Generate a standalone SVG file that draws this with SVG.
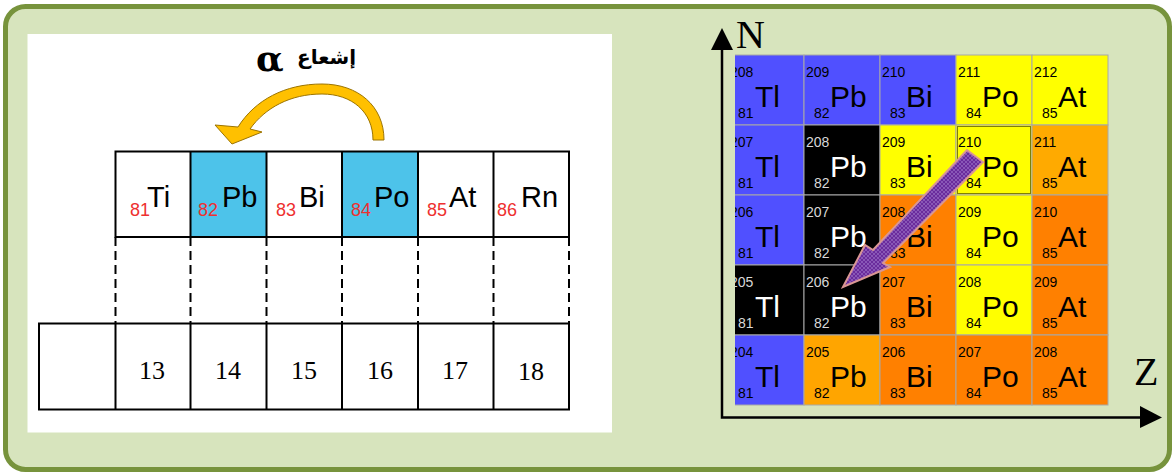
<svg xmlns="http://www.w3.org/2000/svg" width="1173" height="472" viewBox="0 0 1173 472">
<style>
.tl{stroke:#000;stroke-width:2;fill:none}
.dash{stroke:#000;stroke-width:2;stroke-dasharray:9 5;fill:none}
.rn{font-family:"Liberation Sans",Arial,sans-serif;font-size:18px;fill:#ee3030}
.sym{font-family:"Liberation Sans",Arial,sans-serif;font-size:29px;fill:#000}
.grp{font-family:"Liberation Serif","Times New Roman",serif;font-size:26px;fill:#000;text-anchor:middle}
.cell{stroke:#a8a8a8;stroke-width:1}
.m{font-family:"Liberation Sans",Arial,sans-serif;font-size:14px;fill:#000}
.s{font-family:"Liberation Sans",Arial,sans-serif;font-size:30px;fill:#000}
.dk .m{fill:#d8d8d8}
.dk .s{fill:#fff}
.ax{stroke:#000;stroke-width:2.5;fill:none}
.axl{font-family:"Liberation Serif","Times New Roman",serif;font-size:40px;fill:#000}
</style>
<defs>
<clipPath id="gclip"><rect x="735" y="54" width="374" height="352"/></clipPath>
<pattern id="hatch" width="4" height="4" patternUnits="userSpaceOnUse">
<rect width="4" height="4" fill="#6a2c9c"/>
<path d="M0,0 L4,4 M4,0 L0,4" stroke="#9d74c9" stroke-width="0.6"/>
</pattern>
</defs>

<rect id="frame" x="5.5" y="6.5" width="1164" height="463" rx="20" fill="#d7e4bd" stroke="#77933c" stroke-width="5"/>
<rect id="panel" x="27.5" y="34" width="584.5" height="398.5" fill="#fff"/>

<!-- left table -->
<g id="top-row">
<rect x="190.5" y="151.5" width="76" height="85.5" fill="#4dc3ea"/>
<rect x="342" y="151.5" width="76" height="85.5" fill="#4dc3ea"/>
<rect class="tl" x="115.5" y="151.5" width="453.5" height="85.5"/>
<path class="tl" d="M190.5,151.5V237 M266.5,151.5V237 M342,151.5V237 M418,151.5V237 M493.5,151.5V237"/>
</g>
<g id="cell-Ti"><text class="rn" x="130" y="216">81</text><text class="sym" x="147" y="207">Ti</text></g>
<g id="cell-Pb"><text class="rn" x="198" y="216">82</text><text class="sym" x="222" y="207">Pb</text></g>
<g id="cell-Bi"><text class="rn" x="276" y="216">83</text><text class="sym" x="299" y="207">Bi</text></g>
<g id="cell-Po"><text class="rn" x="351" y="216">84</text><text class="sym" x="374" y="207">Po</text></g>
<g id="cell-At"><text class="rn" x="427" y="216">85</text><text class="sym" x="449" y="207">At</text></g>
<g id="cell-Rn"><text class="rn" x="497" y="216">86</text><text class="sym" x="521" y="207">Rn</text></g>
<g id="dashed">
<path class="dash" d="M115.5,237V323 M190.5,237V323 M266.5,237V323 M342,237V323 M418,237V323 M493.5,237V323 M569,237V323"/>
</g>
<g id="bottom-row">
<rect class="tl" x="39" y="323.5" width="530" height="86"/>
<path class="tl" d="M115.5,323.5V409.5 M190.5,323.5V409.5 M266.5,323.5V409.5 M342,323.5V409.5 M418,323.5V409.5 M493.5,323.5V409.5"/>
<text class="grp" x="152" y="379">13</text>
<text class="grp" x="228" y="379">14</text>
<text class="grp" x="304" y="379">15</text>
<text class="grp" x="380" y="379">16</text>
<text class="grp" x="455" y="379">17</text>
<text class="grp" x="531" y="380">18</text>
</g>
<g id="label-alpha">
<text x="256" y="71" font-family="DejaVu Serif,serif" font-size="36" font-weight="bold" fill="#000">α</text>
<text x="297" y="64" font-family="DejaVu Sans,sans-serif" font-size="20" font-weight="bold" fill="#000">إشعاع</text>
</g>

<!-- right grid -->
<g id="grid" clip-path="url(#gclip)">
<g id="r0">
<g><rect class="cell" x="728" y="55" width="76" height="70" fill="#5050ff"/><text class="m" x="730" y="77">208</text><text class="s" x="755" y="107">Tl</text><text class="m" x="738" y="118">81</text></g>
<g><rect class="cell" x="804" y="55" width="76" height="70" fill="#5050ff"/><text class="m" x="806" y="77">209</text><text class="s" x="830" y="107">Pb</text><text class="m" x="814" y="118">82</text></g>
<g><rect class="cell" x="880" y="55" width="76" height="70" fill="#5050ff"/><text class="m" x="882" y="77">210</text><text class="s" x="906" y="107">Bi</text><text class="m" x="890" y="118">83</text></g>
<g><rect class="cell" x="956" y="55" width="76" height="70" fill="#ffff00"/><text class="m" x="958" y="77">211</text><text class="s" x="982" y="107">Po</text><text class="m" x="966" y="118">84</text></g>
<g><rect class="cell" x="1032" y="55" width="76" height="70" fill="#ffff00"/><text class="m" x="1034" y="77">212</text><text class="s" x="1058" y="107">At</text><text class="m" x="1042" y="118">85</text></g>
</g>
<g id="r1">
<g><rect class="cell" x="728" y="125" width="76" height="70" fill="#5050ff"/><text class="m" x="730" y="147">207</text><text class="s" x="755" y="177">Tl</text><text class="m" x="738" y="188">81</text></g>
<g class="dk"><rect class="cell" x="804" y="125" width="76" height="70" fill="#000"/><text class="m" x="806" y="147">208</text><text class="s" x="830" y="177">Pb</text><text class="m" x="814" y="188">82</text></g>
<g><rect class="cell" x="880" y="125" width="76" height="70" fill="#ffff00"/><text class="m" x="882" y="147">209</text><text class="s" x="906" y="177">Bi</text><text class="m" x="890" y="188">83</text></g>
<g><rect class="cell" x="956" y="125" width="76" height="70" fill="#ffff00"/><rect x="957.5" y="126.5" width="73" height="67" fill="none" stroke="#000" stroke-width="1" stroke-dasharray="1 1"/><text class="m" x="958" y="147">210</text><text class="s" x="982" y="177">Po</text><text class="m" x="966" y="188">84</text></g>
<g><rect class="cell" x="1032" y="125" width="76" height="70" fill="#ffaa00"/><text class="m" x="1034" y="147">211</text><text class="s" x="1058" y="177">At</text><text class="m" x="1042" y="188">85</text></g>
</g>
<g id="r2">
<g><rect class="cell" x="728" y="195" width="76" height="70" fill="#5050ff"/><text class="m" x="730" y="217">206</text><text class="s" x="755" y="247">Tl</text><text class="m" x="738" y="258">81</text></g>
<g class="dk"><rect class="cell" x="804" y="195" width="76" height="70" fill="#000"/><text class="m" x="806" y="217">207</text><text class="s" x="830" y="247">Pb</text><text class="m" x="814" y="258">82</text></g>
<g><rect class="cell" x="880" y="195" width="76" height="70" fill="#ff8000"/><text class="m" x="882" y="217">208</text><text class="s" x="906" y="247">Bi</text><text class="m" x="890" y="258">83</text></g>
<g><rect class="cell" x="956" y="195" width="76" height="70" fill="#ffff00"/><text class="m" x="958" y="217">209</text><text class="s" x="982" y="247">Po</text><text class="m" x="966" y="258">84</text></g>
<g><rect class="cell" x="1032" y="195" width="76" height="70" fill="#ff8000"/><text class="m" x="1034" y="217">210</text><text class="s" x="1058" y="247">At</text><text class="m" x="1042" y="258">85</text></g>
</g>
<g id="r3">
<g class="dk"><rect class="cell" x="728" y="265" width="76" height="70" fill="#000"/><text class="m" x="730" y="287">205</text><text class="s" x="755" y="317">Tl</text><text class="m" x="738" y="328">81</text></g>
<g class="dk"><rect class="cell" x="804" y="265" width="76" height="70" fill="#000"/><text class="m" x="806" y="287">206</text><text class="s" x="830" y="317">Pb</text><text class="m" x="814" y="328">82</text></g>
<g><rect class="cell" x="880" y="265" width="76" height="70" fill="#ff8000"/><text class="m" x="882" y="287">207</text><text class="s" x="906" y="317">Bi</text><text class="m" x="890" y="328">83</text></g>
<g><rect class="cell" x="956" y="265" width="76" height="70" fill="#ffff00"/><text class="m" x="958" y="287">208</text><text class="s" x="982" y="317">Po</text><text class="m" x="966" y="328">84</text></g>
<g><rect class="cell" x="1032" y="265" width="76" height="70" fill="#ff8000"/><text class="m" x="1034" y="287">209</text><text class="s" x="1058" y="317">At</text><text class="m" x="1042" y="328">85</text></g>
</g>
<g id="r4">
<g><rect class="cell" x="728" y="335" width="76" height="70" fill="#5050ff"/><text class="m" x="730" y="357">204</text><text class="s" x="755" y="387">Tl</text><text class="m" x="738" y="398">81</text></g>
<g><rect class="cell" x="804" y="335" width="76" height="70" fill="#ffa500"/><text class="m" x="806" y="357">205</text><text class="s" x="830" y="387">Pb</text><text class="m" x="814" y="398">82</text></g>
<g><rect class="cell" x="880" y="335" width="76" height="70" fill="#ff8000"/><text class="m" x="882" y="357">206</text><text class="s" x="906" y="387">Bi</text><text class="m" x="890" y="398">83</text></g>
<g><rect class="cell" x="956" y="335" width="76" height="70" fill="#ff8000"/><text class="m" x="958" y="357">207</text><text class="s" x="982" y="387">Po</text><text class="m" x="966" y="398">84</text></g>
<g><rect class="cell" x="1032" y="335" width="76" height="70" fill="#ff8000"/><text class="m" x="1034" y="357">208</text><text class="s" x="1058" y="387">At</text><text class="m" x="1042" y="398">85</text></g>
</g>
</g>

<g id="axis-labels">
<text class="axl" x="736" y="48">N</text>
<text class="axl" x="1134" y="385">Z</text>
</g>

<g id="connectors">
<path id="alpha-arrow" d="M384,140 C384,106 358,84 322,84 C285,84 255,100 238,127 L215,125 L232,144 L262,132 L250,129 C265,108 290,94 322,94 C352,94 373,112 373,140 Z" fill="#ffc000" stroke="#9c7400" stroke-width="1"/>
<polygon id="decay-arrow" points="967,150 983,162 883,263 890,267 843,287 865,245 873,250" fill="url(#hatch)" stroke="#d99694" stroke-width="2" stroke-linejoin="miter"/>
<path class="ax" d="M722,48V417.5H1142"/>
<polygon points="711,50 733,50 722,28" fill="#000"/>
<polygon points="1140,406 1140,428 1162,417.5" fill="#000"/>
</g>
</svg>
